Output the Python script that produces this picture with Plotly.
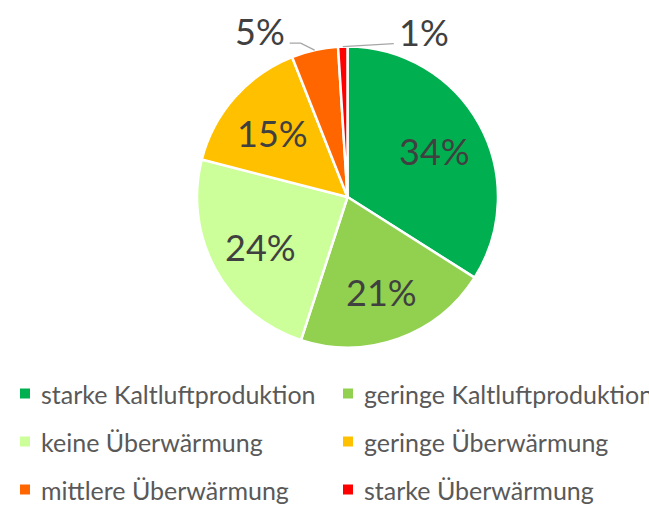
import math
import plotly.graph_objects as go

# Anteile der Klimafunktionsklassen
categories = [
    "starke Kaltluftproduktion",
    "geringe Kaltluftproduktion",
    "keine Überwärmung",
    "geringe Überwärmung",
    "mittlere Überwärmung",
    "starke Überwärmung",
]
shares = [34, 21, 24, 15, 5, 1]
colors = ["#00B050", "#92D050", "#CCFF99", "#FFC000", "#FF6600", "#FF0000"]

W, H = 649, 507
CX, CY, R = 347.5, 197, 150.5
FONT = "Lato"
LABEL_COLOR = "#404040"
LEGEND_COLOR = "#595959"


def px(x):
    return x / W


def py(y):
    return 1 - y / H


fig = go.Figure(
    go.Pie(
        labels=categories,
        values=shares,
        sort=False,
        direction="clockwise",
        rotation=0,
        textinfo="none",
        hoverinfo="label+percent",
        marker=dict(colors=colors, line=dict(color="white", width=2.5)),
        domain=dict(x=[px(CX - R), px(CX + R)], y=[py(CY + R), py(CY - R)]),
        showlegend=False,
    )
)

total = sum(shares)
annotations = []
shapes = []
cum = 0
for i, v in enumerate(shares):
    mid = (cum + v / 2) / total * 2 * math.pi
    cum += v
    pct = f"{round(v / total * 100)}%"
    if v / total >= 0.1:
        r = 0.66 * R
        x = CX + r * math.sin(mid)
        y = CY - r * math.cos(mid)
        annotations.append(dict(
            x=px(x), y=py(y + 2), xref="paper", yref="paper", text=pct,
            showarrow=False, xanchor="center", yanchor="middle",
            font=dict(family=FONT, size=36, color=LABEL_COLOR),
        ))
    else:
        # small slices: label above the pie with a leader line
        ex = CX + R * math.sin(mid)
        ey = CY - R * math.cos(mid)
        if math.sin(mid) < -0.1:
            kx, ky = ex - 14, ey - 7
            tx = kx - 11
            path = f"M {px(ex)} {py(ey)} L {px(kx)} {py(ky)} L {px(tx)} {py(ky)}"
            anchor = "right"
            txt = tx - 3
        else:
            tx, ty = ex + 51, ey - 3
            ky = ty
            path = f"M {px(ex)} {py(ey)} L {px(tx)} {py(ty)}"
            anchor = "left"
            txt = tx + 3
        shapes.append(dict(type="path", path=path, xref="paper", yref="paper",
                           line=dict(color="#A6A6A6", width=1.3)))
        annotations.append(dict(
            x=px(txt), y=py(ky - 12), xref="paper", yref="paper", text=pct,
            showarrow=False, xanchor=anchor, yanchor="middle",
            font=dict(family=FONT, size=36, color=LABEL_COLOR),
        ))

# legend in two columns below the pie
col_x = [25, 348]
row_y = [393.5, 441.5, 489.5]
for i, (name, c) in enumerate(zip(categories, colors)):
    mx = col_x[i % 2]
    my = row_y[i // 2]
    shapes.append(dict(type="rect", xref="paper", yref="paper",
                       x0=px(mx - 5), x1=px(mx + 5), y0=py(my + 5), y1=py(my - 5),
                       fillcolor=c, line=dict(width=0)))
    annotations.append(dict(
        x=px(mx + 14), y=py(my), xref="paper", yref="paper", text=name,
        showarrow=False, xanchor="left", yanchor="middle",
        font=dict(family=FONT, size=25, color=LEGEND_COLOR),
    ))

fig.update_layout(
    width=W, height=H,
    margin=dict(l=0, r=0, t=0, b=0),
    paper_bgcolor="white",
    plot_bgcolor="white",
    annotations=annotations,
    shapes=shapes,
)

fig.write_html("out.html")
